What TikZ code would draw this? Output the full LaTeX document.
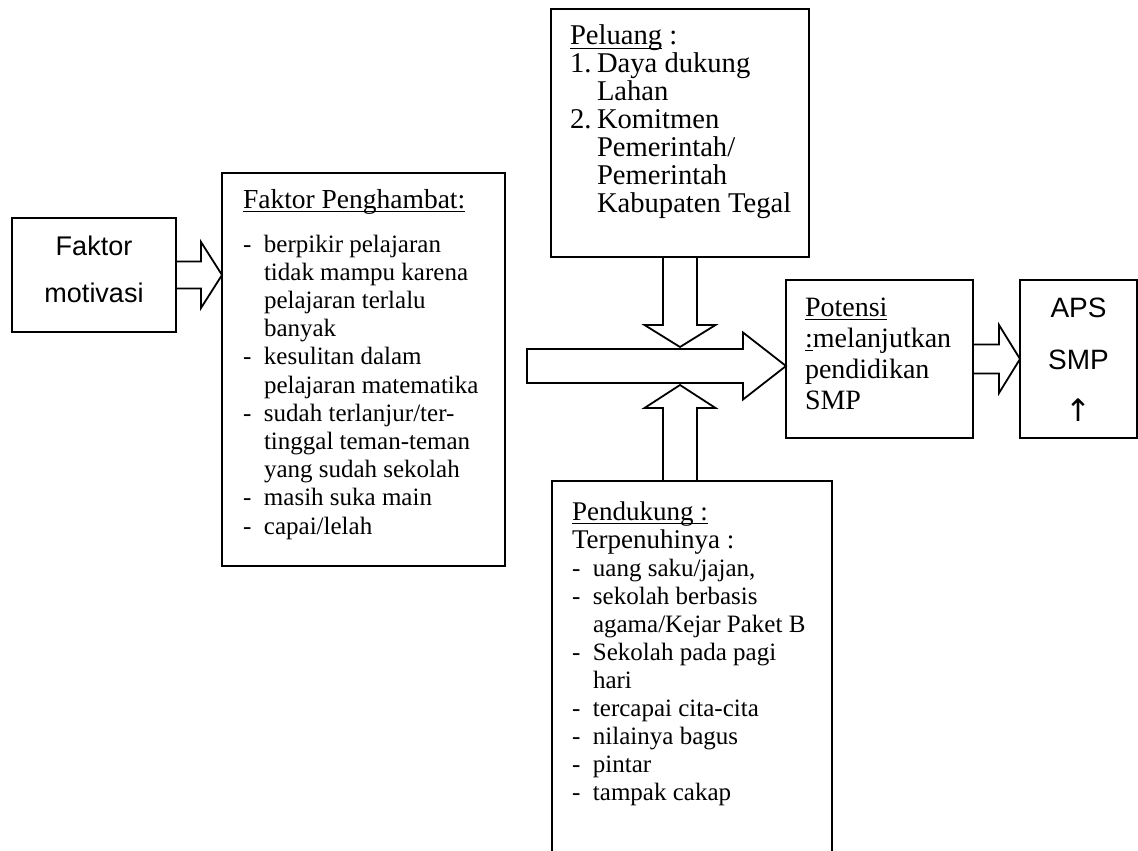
\documentclass[tikz,border=0pt]{standalone}
\usepackage{fontspec}
\setmainfont{Liberation Serif}
\newfontfamily\arialf{Liberation Sans}
\newfontfamily\dejavuf{DejaVu Sans}
\usetikzlibrary{calc}
\newcommand\itemd[1]{\makebox[10.5pt][l]{-}#1}
\newcommand\itemc[1]{\hspace*{10.5pt}#1}
\newcommand\numd[2]{\makebox[13.5pt][l]{#1}#2}
\newlength\ulw
\newcommand\ul[1]{\leavevmode\settowidth\ulw{#1}\rlap{\rule[-2pt]{\ulw}{0.6pt}}#1}
% block arrows: start, tip, shaft half, head half, head length
\newcommand\harrow[5]{\draw[blk] let \p1=(#1), \p2=(#2) in (\x1,\y1+#3) -- (\x2-#5,\y1+#3) -- (\x2-#5,\y1+#4) -- (\x2,\y1) -- (\x2-#5,\y1-#4) -- (\x2-#5,\y1-#3) -- (\x1,\y1-#3) -- cycle;}
\newcommand\darrow[5]{\draw[blk] let \p1=(#1), \p2=(#2) in (\x1-#3,\y1) -- (\x1-#3,\y2+#5) -- (\x1-#4,\y2+#5) -- (\x1,\y2) -- (\x1+#4,\y2+#5) -- (\x1+#3,\y2+#5) -- (\x1+#3,\y1) -- cycle;}
\newcommand\uarrow[5]{\draw[blk] let \p1=(#1), \p2=(#2) in (\x1-#3,\y1) -- (\x1-#3,\y2-#5) -- (\x1-#4,\y2-#5) -- (\x1,\y2) -- (\x1+#4,\y2-#5) -- (\x1+#3,\y2-#5) -- (\x1+#3,\y1) -- cycle;}
\begin{document}
\begin{tikzpicture}[x=0.5pt,y=-0.5pt,
  box/.style={draw, line width=1pt, inner sep=0pt, outer sep=0pt, anchor=north west},
  txt/.style={inner sep=0pt, outer sep=0pt, anchor=base west},
  ctxt/.style={inner sep=0pt, outer sep=0pt, anchor=base},
  blk/.style={draw, line width=0.9pt, fill=white, line join=miter}]
\useasboundingbox (0,0) rectangle (1138,850);

% boxes
\node[box, minimum width=82pt, minimum height=57pt] (mot) at (12,218) {};
\node[box, minimum width=141.5pt, minimum height=196.5pt] (fp) at (222,173) {};
\node[box, minimum width=129pt, minimum height=124pt] (pel) at (551,9) {};
\node[box, minimum width=140pt, minimum height=200pt] (pend) at (552,481) {};
\node[box, minimum width=93.5pt, minimum height=79pt] (pot) at (786,280) {};
\node[box, minimum width=58.5pt, minimum height=79pt] (aps) at (1020,280) {};

% texts
\node[ctxt] (motT) at (94,255) {\parbox[t]{80pt}{\centering\arialf\fontsize{13.5pt}{23.5pt}\selectfont Faktor\\ motivasi}};

\node[txt] (fpT) at (243,208) {\parbox[t]{140pt}{\fontsize{12.5pt}{14.1pt}\selectfont
{\fontsize{13.75pt}{14.1pt}\selectfont\ul{Faktor Penghambat:}}\\[7.9pt]
\itemd{berpikir pelajaran}\\
\itemc{tidak mampu karena}\\
\itemc{pelajaran terlalu}\\
\itemc{banyak}\\
\itemd{kesulitan dalam}\\
\itemc{pelajaran matematika}\\
\itemd{sudah terlanjur/ter-}\\
\itemc{tinggal teman-teman}\\
\itemc{yang sudah sekolah}\\
\itemd{masih suka main}\\
\itemd{capai/lelah}}};

\node[txt] (pelT) at (570,45) {\parbox[t]{125pt}{\fontsize{14.3pt}{14pt}\selectfont
\ul{Peluang} :\\
\numd{1.}{Daya dukung}\\
\numd{}{Lahan}\\
\numd{2.}{Komitmen}\\
\numd{}{Pemerintah/}\\
\numd{}{Pemerintah}\\
\numd{}{Kabupaten Tegal}}};

\node[txt] (pendT) at (572,520) {\parbox[t]{130pt}{\fontsize{12.5pt}{14pt}\selectfont
{\fontsize{13.5pt}{14pt}\selectfont\ul{Pendukung :}\\
Terpenuhinya :}\\
\itemd{uang saku/jajan,}\\
\itemd{sekolah berbasis}\\
\itemc{agama/Kejar Paket B}\\
\itemd{Sekolah pada pagi}\\
\itemc{hari}\\
\itemd{tercapai cita-cita}\\
\itemd{nilainya bagus}\\
\itemd{pintar}\\
\itemd{tampak cakap}}};

\node[txt] (potT) at (805,316) {\parbox[t]{85pt}{\fontsize{14pt}{15.5pt}\selectfont
\ul{Potensi}\\
\ul{:}melanjutkan\\
pendidikan\\
SMP}};

\node[ctxt] (apsT) at (1078.5,317) {\parbox[t]{56pt}{\centering\arialf\fontsize{14pt}{26pt}\selectfont APS\\ SMP\\ {\dejavuf\fontsize{15.5pt}{26pt}\selectfont ↑}}};

% connectors (block arrows)
\coordinate (hstart) at (527,366);
\coordinate (dtip) at (680,347);
\coordinate (utip) at (680,385);

\harrow{mot.east}{fp.west |- mot.east}{6.75pt}{16.5pt}{10.5pt}
\harrow{hstart}{pot.west |- hstart}{8.5pt}{16.75pt}{21.5pt}
\darrow{pel.south}{dtip}{8.5pt}{17.75pt}{11pt}
\uarrow{pend.north -| utip}{utip}{8.5pt}{17.75pt}{11.5pt}
\harrow{pot.east}{aps.west}{7.25pt}{17pt}{10.5pt}
\end{tikzpicture}
\end{document}
